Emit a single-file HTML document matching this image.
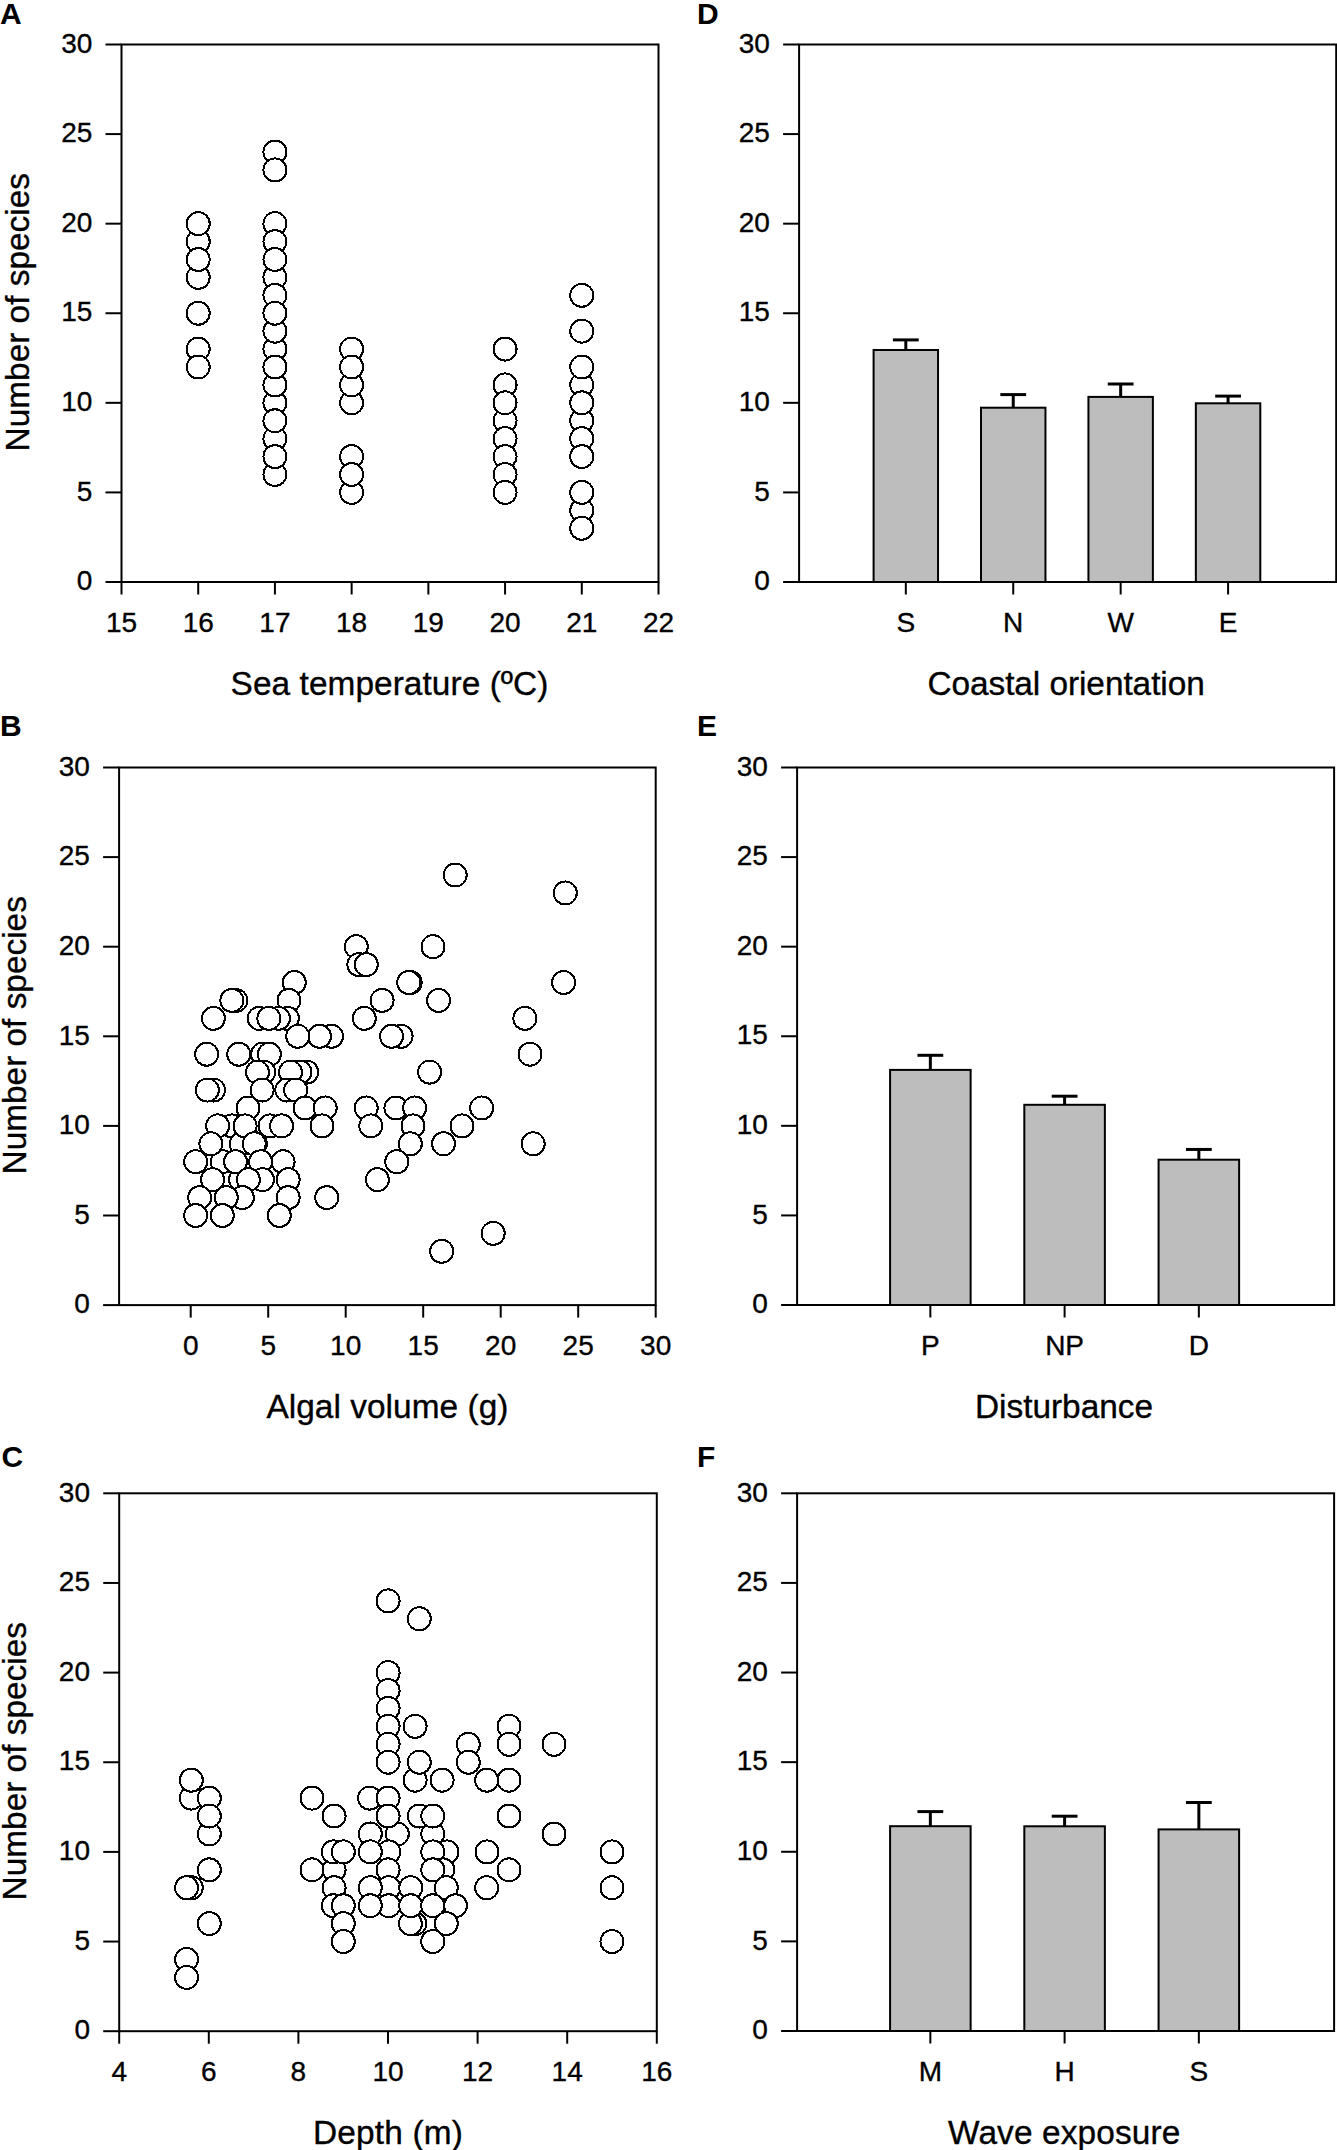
<!DOCTYPE html>
<html><head><meta charset="utf-8"><title>Figure</title>
<style>
html,body{margin:0;padding:0;background:#fff;}
body{width:1337px;height:2150px;overflow:hidden;}
svg{display:block;}
line,rect{stroke:#000;stroke-width:2;}
.t{font-family:"Liberation Sans", sans-serif;font-size:28px;fill:#000;stroke:#000;stroke-width:0.35px;}
.ti{font-family:"Liberation Sans", sans-serif;font-size:33.4px;fill:#000;stroke:#000;stroke-width:0.35px;}
.pl{font-family:"Liberation Sans", sans-serif;font-size:30px;font-weight:bold;fill:#000;}
.c circle{fill:#fff;stroke:#000;stroke-width:2.0;shape-rendering:crispEdges;}
rect.bar{fill:#bdbdbd;stroke:#000;stroke-width:2;}
line.eb{stroke-width:3;}
</style></head>
<body>
<svg width="1337" height="2150" viewBox="0 0 1337 2150">
<line x1="105.50" y1="582.00" x2="121.50" y2="582.00"/>
<text class="t" x="92.30" y="590.20" text-anchor="end">0</text>
<line x1="105.50" y1="492.42" x2="121.50" y2="492.42"/>
<text class="t" x="92.30" y="500.62" text-anchor="end">5</text>
<line x1="105.50" y1="402.83" x2="121.50" y2="402.83"/>
<text class="t" x="92.30" y="411.03" text-anchor="end">10</text>
<line x1="105.50" y1="313.25" x2="121.50" y2="313.25"/>
<text class="t" x="92.30" y="321.45" text-anchor="end">15</text>
<line x1="105.50" y1="223.67" x2="121.50" y2="223.67"/>
<text class="t" x="92.30" y="231.87" text-anchor="end">20</text>
<line x1="105.50" y1="134.08" x2="121.50" y2="134.08"/>
<text class="t" x="92.30" y="142.28" text-anchor="end">25</text>
<line x1="105.50" y1="44.50" x2="121.50" y2="44.50"/>
<text class="t" x="92.30" y="52.70" text-anchor="end">30</text>
<line x1="121.50" y1="582.00" x2="121.50" y2="594.50"/>
<text class="t" x="121.50" y="632.00" text-anchor="middle">15</text>
<line x1="198.21" y1="582.00" x2="198.21" y2="594.50"/>
<text class="t" x="198.21" y="632.00" text-anchor="middle">16</text>
<line x1="274.93" y1="582.00" x2="274.93" y2="594.50"/>
<text class="t" x="274.93" y="632.00" text-anchor="middle">17</text>
<line x1="351.64" y1="582.00" x2="351.64" y2="594.50"/>
<text class="t" x="351.64" y="632.00" text-anchor="middle">18</text>
<line x1="428.36" y1="582.00" x2="428.36" y2="594.50"/>
<text class="t" x="428.36" y="632.00" text-anchor="middle">19</text>
<line x1="505.07" y1="582.00" x2="505.07" y2="594.50"/>
<text class="t" x="505.07" y="632.00" text-anchor="middle">20</text>
<line x1="581.79" y1="582.00" x2="581.79" y2="594.50"/>
<text class="t" x="581.79" y="632.00" text-anchor="middle">21</text>
<line x1="658.50" y1="582.00" x2="658.50" y2="594.50"/>
<text class="t" x="658.50" y="632.00" text-anchor="middle">22</text>
<rect x="121.50" y="44.50" width="537.00" height="537.50" fill="none"/>
<text class="ti" x="230.60" y="694.80" textLength="317.80" lengthAdjust="spacing">Sea temperature (ºC)</text>
<text class="ti" x="0" y="0" text-anchor="middle" transform="translate(28.60 312.25) rotate(-90)">Number of species</text>
<g class="c">
<circle cx="198.21" cy="241.58" r="11.5"/>
<circle cx="198.21" cy="277.42" r="11.5"/>
<circle cx="198.21" cy="349.08" r="11.5"/>
<circle cx="198.21" cy="223.67" r="11.5"/>
<circle cx="198.21" cy="259.50" r="11.5"/>
<circle cx="198.21" cy="313.25" r="11.5"/>
<circle cx="198.21" cy="367.00" r="11.5"/>
<circle cx="274.93" cy="152.00" r="11.5"/>
<circle cx="274.93" cy="223.67" r="11.5"/>
<circle cx="274.93" cy="277.42" r="11.5"/>
<circle cx="274.93" cy="349.08" r="11.5"/>
<circle cx="274.93" cy="402.83" r="11.5"/>
<circle cx="274.93" cy="438.67" r="11.5"/>
<circle cx="274.93" cy="474.50" r="11.5"/>
<circle cx="274.93" cy="241.58" r="11.5"/>
<circle cx="274.93" cy="295.33" r="11.5"/>
<circle cx="274.93" cy="331.17" r="11.5"/>
<circle cx="274.93" cy="384.92" r="11.5"/>
<circle cx="274.93" cy="169.92" r="11.5"/>
<circle cx="274.93" cy="259.50" r="11.5"/>
<circle cx="274.93" cy="313.25" r="11.5"/>
<circle cx="274.93" cy="367.00" r="11.5"/>
<circle cx="274.93" cy="420.75" r="11.5"/>
<circle cx="274.93" cy="456.58" r="11.5"/>
<circle cx="351.64" cy="349.08" r="11.5"/>
<circle cx="351.64" cy="402.83" r="11.5"/>
<circle cx="351.64" cy="384.92" r="11.5"/>
<circle cx="351.64" cy="367.00" r="11.5"/>
<circle cx="351.64" cy="456.58" r="11.5"/>
<circle cx="351.64" cy="492.42" r="11.5"/>
<circle cx="351.64" cy="474.50" r="11.5"/>
<circle cx="505.07" cy="349.08" r="11.5"/>
<circle cx="505.07" cy="384.92" r="11.5"/>
<circle cx="505.07" cy="420.75" r="11.5"/>
<circle cx="505.07" cy="402.83" r="11.5"/>
<circle cx="505.07" cy="438.67" r="11.5"/>
<circle cx="505.07" cy="456.58" r="11.5"/>
<circle cx="505.07" cy="474.50" r="11.5"/>
<circle cx="505.07" cy="492.42" r="11.5"/>
<circle cx="581.79" cy="384.92" r="11.5"/>
<circle cx="581.79" cy="420.75" r="11.5"/>
<circle cx="581.79" cy="438.67" r="11.5"/>
<circle cx="581.79" cy="510.33" r="11.5"/>
<circle cx="581.79" cy="367.00" r="11.5"/>
<circle cx="581.79" cy="402.83" r="11.5"/>
<circle cx="581.79" cy="456.58" r="11.5"/>
<circle cx="581.79" cy="492.42" r="11.5"/>
<circle cx="581.79" cy="528.25" r="11.5"/>
<circle cx="581.79" cy="295.33" r="11.5"/>
<circle cx="581.79" cy="331.17" r="11.5"/>
</g>
<line x1="103.10" y1="1305.10" x2="119.10" y2="1305.10"/>
<text class="t" x="89.90" y="1313.30" text-anchor="end">0</text>
<line x1="103.10" y1="1215.50" x2="119.10" y2="1215.50"/>
<text class="t" x="89.90" y="1223.70" text-anchor="end">5</text>
<line x1="103.10" y1="1125.90" x2="119.10" y2="1125.90"/>
<text class="t" x="89.90" y="1134.10" text-anchor="end">10</text>
<line x1="103.10" y1="1036.30" x2="119.10" y2="1036.30"/>
<text class="t" x="89.90" y="1044.50" text-anchor="end">15</text>
<line x1="103.10" y1="946.70" x2="119.10" y2="946.70"/>
<text class="t" x="89.90" y="954.90" text-anchor="end">20</text>
<line x1="103.10" y1="857.10" x2="119.10" y2="857.10"/>
<text class="t" x="89.90" y="865.30" text-anchor="end">25</text>
<line x1="103.10" y1="767.50" x2="119.10" y2="767.50"/>
<text class="t" x="89.90" y="775.70" text-anchor="end">30</text>
<line x1="190.70" y1="1305.10" x2="190.70" y2="1317.60"/>
<text class="t" x="190.70" y="1355.10" text-anchor="middle">0</text>
<line x1="268.20" y1="1305.10" x2="268.20" y2="1317.60"/>
<text class="t" x="268.20" y="1355.10" text-anchor="middle">5</text>
<line x1="345.70" y1="1305.10" x2="345.70" y2="1317.60"/>
<text class="t" x="345.70" y="1355.10" text-anchor="middle">10</text>
<line x1="423.20" y1="1305.10" x2="423.20" y2="1317.60"/>
<text class="t" x="423.20" y="1355.10" text-anchor="middle">15</text>
<line x1="500.70" y1="1305.10" x2="500.70" y2="1317.60"/>
<text class="t" x="500.70" y="1355.10" text-anchor="middle">20</text>
<line x1="578.20" y1="1305.10" x2="578.20" y2="1317.60"/>
<text class="t" x="578.20" y="1355.10" text-anchor="middle">25</text>
<line x1="655.70" y1="1305.10" x2="655.70" y2="1317.60"/>
<text class="t" x="655.70" y="1355.10" text-anchor="middle">30</text>
<rect x="119.10" y="767.50" width="536.60" height="537.60" fill="none"/>
<text class="ti" x="266.40" y="1418.20" textLength="242.00" lengthAdjust="spacing">Algal volume (g)</text>
<text class="ti" x="0" y="0" text-anchor="middle" transform="translate(26.20 1035.30) rotate(-90)">Number of species</text>
<g class="c">
<circle cx="231.80" cy="1125.90" r="11.5"/>
<circle cx="241.30" cy="1143.82" r="11.5"/>
<circle cx="222.30" cy="1161.74" r="11.5"/>
<circle cx="240.60" cy="1179.66" r="11.5"/>
<circle cx="455.20" cy="875.02" r="11.5"/>
<circle cx="565.30" cy="892.94" r="11.5"/>
<circle cx="356.30" cy="946.70" r="11.5"/>
<circle cx="433.00" cy="946.70" r="11.5"/>
<circle cx="358.90" cy="964.62" r="11.5"/>
<circle cx="366.30" cy="964.62" r="11.5"/>
<circle cx="294.30" cy="982.54" r="11.5"/>
<circle cx="410.20" cy="982.54" r="11.5"/>
<circle cx="408.80" cy="982.54" r="11.5"/>
<circle cx="563.60" cy="982.54" r="11.5"/>
<circle cx="235.90" cy="1000.46" r="11.5"/>
<circle cx="231.90" cy="1000.46" r="11.5"/>
<circle cx="289.00" cy="1000.46" r="11.5"/>
<circle cx="382.10" cy="1000.46" r="11.5"/>
<circle cx="438.60" cy="1000.46" r="11.5"/>
<circle cx="213.40" cy="1018.38" r="11.5"/>
<circle cx="287.40" cy="1018.38" r="11.5"/>
<circle cx="278.50" cy="1018.38" r="11.5"/>
<circle cx="259.20" cy="1018.38" r="11.5"/>
<circle cx="268.90" cy="1018.38" r="11.5"/>
<circle cx="364.30" cy="1018.38" r="11.5"/>
<circle cx="524.90" cy="1018.38" r="11.5"/>
<circle cx="331.60" cy="1036.30" r="11.5"/>
<circle cx="319.50" cy="1036.30" r="11.5"/>
<circle cx="297.80" cy="1036.30" r="11.5"/>
<circle cx="401.10" cy="1036.30" r="11.5"/>
<circle cx="391.60" cy="1036.30" r="11.5"/>
<circle cx="206.70" cy="1054.22" r="11.5"/>
<circle cx="238.80" cy="1054.22" r="11.5"/>
<circle cx="262.50" cy="1054.22" r="11.5"/>
<circle cx="269.40" cy="1054.22" r="11.5"/>
<circle cx="530.00" cy="1054.22" r="11.5"/>
<circle cx="306.70" cy="1072.14" r="11.5"/>
<circle cx="299.90" cy="1072.14" r="11.5"/>
<circle cx="290.50" cy="1072.14" r="11.5"/>
<circle cx="263.80" cy="1072.14" r="11.5"/>
<circle cx="257.50" cy="1072.14" r="11.5"/>
<circle cx="429.60" cy="1072.14" r="11.5"/>
<circle cx="213.50" cy="1090.06" r="11.5"/>
<circle cx="207.40" cy="1090.06" r="11.5"/>
<circle cx="262.20" cy="1090.06" r="11.5"/>
<circle cx="286.80" cy="1090.06" r="11.5"/>
<circle cx="295.70" cy="1090.06" r="11.5"/>
<circle cx="248.00" cy="1107.98" r="11.5"/>
<circle cx="305.10" cy="1107.98" r="11.5"/>
<circle cx="325.20" cy="1107.98" r="11.5"/>
<circle cx="366.20" cy="1107.98" r="11.5"/>
<circle cx="395.90" cy="1107.98" r="11.5"/>
<circle cx="414.70" cy="1107.98" r="11.5"/>
<circle cx="481.70" cy="1107.98" r="11.5"/>
<circle cx="217.70" cy="1125.90" r="11.5"/>
<circle cx="245.10" cy="1125.90" r="11.5"/>
<circle cx="270.00" cy="1125.90" r="11.5"/>
<circle cx="281.60" cy="1125.90" r="11.5"/>
<circle cx="322.00" cy="1125.90" r="11.5"/>
<circle cx="370.80" cy="1125.90" r="11.5"/>
<circle cx="413.00" cy="1125.90" r="11.5"/>
<circle cx="462.00" cy="1125.90" r="11.5"/>
<circle cx="210.90" cy="1143.82" r="11.5"/>
<circle cx="255.40" cy="1143.82" r="11.5"/>
<circle cx="254.30" cy="1143.82" r="11.5"/>
<circle cx="410.30" cy="1143.82" r="11.5"/>
<circle cx="443.50" cy="1143.82" r="11.5"/>
<circle cx="533.20" cy="1143.82" r="11.5"/>
<circle cx="195.70" cy="1161.74" r="11.5"/>
<circle cx="235.50" cy="1161.74" r="11.5"/>
<circle cx="260.60" cy="1161.74" r="11.5"/>
<circle cx="283.10" cy="1161.74" r="11.5"/>
<circle cx="396.80" cy="1161.74" r="11.5"/>
<circle cx="212.60" cy="1179.66" r="11.5"/>
<circle cx="262.50" cy="1179.66" r="11.5"/>
<circle cx="248.40" cy="1179.66" r="11.5"/>
<circle cx="288.20" cy="1179.66" r="11.5"/>
<circle cx="377.40" cy="1179.66" r="11.5"/>
<circle cx="199.70" cy="1197.58" r="11.5"/>
<circle cx="242.40" cy="1197.58" r="11.5"/>
<circle cx="226.30" cy="1197.58" r="11.5"/>
<circle cx="288.20" cy="1197.58" r="11.5"/>
<circle cx="326.80" cy="1197.58" r="11.5"/>
<circle cx="195.70" cy="1215.50" r="11.5"/>
<circle cx="222.30" cy="1215.50" r="11.5"/>
<circle cx="279.30" cy="1215.50" r="11.5"/>
<circle cx="493.20" cy="1233.42" r="11.5"/>
<circle cx="441.70" cy="1251.34" r="11.5"/>
</g>
<line x1="103.20" y1="2031.20" x2="119.20" y2="2031.20"/>
<text class="t" x="90.00" y="2039.40" text-anchor="end">0</text>
<line x1="103.20" y1="1941.55" x2="119.20" y2="1941.55"/>
<text class="t" x="90.00" y="1949.75" text-anchor="end">5</text>
<line x1="103.20" y1="1851.90" x2="119.20" y2="1851.90"/>
<text class="t" x="90.00" y="1860.10" text-anchor="end">10</text>
<line x1="103.20" y1="1762.25" x2="119.20" y2="1762.25"/>
<text class="t" x="90.00" y="1770.45" text-anchor="end">15</text>
<line x1="103.20" y1="1672.60" x2="119.20" y2="1672.60"/>
<text class="t" x="90.00" y="1680.80" text-anchor="end">20</text>
<line x1="103.20" y1="1582.95" x2="119.20" y2="1582.95"/>
<text class="t" x="90.00" y="1591.15" text-anchor="end">25</text>
<line x1="103.20" y1="1493.30" x2="119.20" y2="1493.30"/>
<text class="t" x="90.00" y="1501.50" text-anchor="end">30</text>
<line x1="119.20" y1="2031.20" x2="119.20" y2="2043.70"/>
<text class="t" x="119.20" y="2081.20" text-anchor="middle">4</text>
<line x1="208.80" y1="2031.20" x2="208.80" y2="2043.70"/>
<text class="t" x="208.80" y="2081.20" text-anchor="middle">6</text>
<line x1="298.40" y1="2031.20" x2="298.40" y2="2043.70"/>
<text class="t" x="298.40" y="2081.20" text-anchor="middle">8</text>
<line x1="388.00" y1="2031.20" x2="388.00" y2="2043.70"/>
<text class="t" x="388.00" y="2081.20" text-anchor="middle">10</text>
<line x1="477.60" y1="2031.20" x2="477.60" y2="2043.70"/>
<text class="t" x="477.60" y="2081.20" text-anchor="middle">12</text>
<line x1="567.20" y1="2031.20" x2="567.20" y2="2043.70"/>
<text class="t" x="567.20" y="2081.20" text-anchor="middle">14</text>
<line x1="656.80" y1="2031.20" x2="656.80" y2="2043.70"/>
<text class="t" x="656.80" y="2081.20" text-anchor="middle">16</text>
<rect x="119.20" y="1493.30" width="537.60" height="537.90" fill="none"/>
<text class="ti" x="313.00" y="2144.30" textLength="149.80" lengthAdjust="spacing">Depth (m)</text>
<text class="ti" x="0" y="0" text-anchor="middle" transform="translate(26.30 1761.25) rotate(-90)">Number of species</text>
<g class="c">
<circle cx="414.80" cy="1923.62" r="11.5"/>
<circle cx="410.40" cy="1923.62" r="11.5"/>
<circle cx="334.10" cy="1869.83" r="11.5"/>
<circle cx="388.10" cy="1600.88" r="11.5"/>
<circle cx="419.30" cy="1618.81" r="11.5"/>
<circle cx="388.10" cy="1672.60" r="11.5"/>
<circle cx="388.10" cy="1690.53" r="11.5"/>
<circle cx="388.10" cy="1708.46" r="11.5"/>
<circle cx="388.10" cy="1726.39" r="11.5"/>
<circle cx="415.10" cy="1726.39" r="11.5"/>
<circle cx="509.00" cy="1726.39" r="11.5"/>
<circle cx="388.10" cy="1744.32" r="11.5"/>
<circle cx="468.30" cy="1744.32" r="11.5"/>
<circle cx="509.00" cy="1744.32" r="11.5"/>
<circle cx="554.00" cy="1744.32" r="11.5"/>
<circle cx="191.30" cy="1798.11" r="11.5"/>
<circle cx="209.30" cy="1798.11" r="11.5"/>
<circle cx="312.00" cy="1798.11" r="11.5"/>
<circle cx="369.60" cy="1798.11" r="11.5"/>
<circle cx="388.10" cy="1798.11" r="11.5"/>
<circle cx="191.30" cy="1780.18" r="11.5"/>
<circle cx="415.10" cy="1780.18" r="11.5"/>
<circle cx="442.10" cy="1780.18" r="11.5"/>
<circle cx="486.70" cy="1780.18" r="11.5"/>
<circle cx="509.00" cy="1780.18" r="11.5"/>
<circle cx="388.10" cy="1762.25" r="11.5"/>
<circle cx="419.30" cy="1762.25" r="11.5"/>
<circle cx="468.30" cy="1762.25" r="11.5"/>
<circle cx="209.30" cy="1833.97" r="11.5"/>
<circle cx="370.30" cy="1833.97" r="11.5"/>
<circle cx="397.30" cy="1833.97" r="11.5"/>
<circle cx="432.80" cy="1833.97" r="11.5"/>
<circle cx="554.00" cy="1833.97" r="11.5"/>
<circle cx="209.30" cy="1816.04" r="11.5"/>
<circle cx="334.10" cy="1816.04" r="11.5"/>
<circle cx="388.10" cy="1816.04" r="11.5"/>
<circle cx="419.30" cy="1816.04" r="11.5"/>
<circle cx="432.80" cy="1816.04" r="11.5"/>
<circle cx="509.00" cy="1816.04" r="11.5"/>
<circle cx="333.30" cy="1851.90" r="11.5"/>
<circle cx="343.30" cy="1851.90" r="11.5"/>
<circle cx="388.80" cy="1851.90" r="11.5"/>
<circle cx="370.30" cy="1851.90" r="11.5"/>
<circle cx="447.00" cy="1851.90" r="11.5"/>
<circle cx="432.80" cy="1851.90" r="11.5"/>
<circle cx="487.00" cy="1851.90" r="11.5"/>
<circle cx="612.00" cy="1851.90" r="11.5"/>
<circle cx="209.30" cy="1869.83" r="11.5"/>
<circle cx="312.00" cy="1869.83" r="11.5"/>
<circle cx="388.10" cy="1869.83" r="11.5"/>
<circle cx="442.80" cy="1869.83" r="11.5"/>
<circle cx="432.80" cy="1869.83" r="11.5"/>
<circle cx="509.00" cy="1869.83" r="11.5"/>
<circle cx="191.30" cy="1887.76" r="11.5"/>
<circle cx="186.60" cy="1887.76" r="11.5"/>
<circle cx="334.10" cy="1887.76" r="11.5"/>
<circle cx="388.80" cy="1887.76" r="11.5"/>
<circle cx="370.30" cy="1887.76" r="11.5"/>
<circle cx="410.80" cy="1887.76" r="11.5"/>
<circle cx="446.30" cy="1887.76" r="11.5"/>
<circle cx="486.70" cy="1887.76" r="11.5"/>
<circle cx="612.00" cy="1887.76" r="11.5"/>
<circle cx="333.30" cy="1905.69" r="11.5"/>
<circle cx="343.30" cy="1905.69" r="11.5"/>
<circle cx="388.80" cy="1905.69" r="11.5"/>
<circle cx="370.30" cy="1905.69" r="11.5"/>
<circle cx="410.80" cy="1905.69" r="11.5"/>
<circle cx="432.80" cy="1905.69" r="11.5"/>
<circle cx="455.50" cy="1905.69" r="11.5"/>
<circle cx="209.30" cy="1923.62" r="11.5"/>
<circle cx="343.30" cy="1923.62" r="11.5"/>
<circle cx="446.30" cy="1923.62" r="11.5"/>
<circle cx="343.30" cy="1941.55" r="11.5"/>
<circle cx="432.80" cy="1941.55" r="11.5"/>
<circle cx="612.00" cy="1941.55" r="11.5"/>
<circle cx="186.60" cy="1959.48" r="11.5"/>
<circle cx="186.60" cy="1977.41" r="11.5"/>
</g>
<line x1="783.10" y1="582.00" x2="799.10" y2="582.00"/>
<text class="t" x="769.90" y="590.20" text-anchor="end">0</text>
<line x1="783.10" y1="492.42" x2="799.10" y2="492.42"/>
<text class="t" x="769.90" y="500.62" text-anchor="end">5</text>
<line x1="783.10" y1="402.83" x2="799.10" y2="402.83"/>
<text class="t" x="769.90" y="411.03" text-anchor="end">10</text>
<line x1="783.10" y1="313.25" x2="799.10" y2="313.25"/>
<text class="t" x="769.90" y="321.45" text-anchor="end">15</text>
<line x1="783.10" y1="223.67" x2="799.10" y2="223.67"/>
<text class="t" x="769.90" y="231.87" text-anchor="end">20</text>
<line x1="783.10" y1="134.08" x2="799.10" y2="134.08"/>
<text class="t" x="769.90" y="142.28" text-anchor="end">25</text>
<line x1="783.10" y1="44.50" x2="799.10" y2="44.50"/>
<text class="t" x="769.90" y="52.70" text-anchor="end">30</text>
<line x1="905.82" y1="582.00" x2="905.82" y2="594.50"/>
<text class="t" x="905.82" y="632.00" text-anchor="middle">S</text>
<line x1="1013.24" y1="582.00" x2="1013.24" y2="594.50"/>
<text class="t" x="1013.24" y="632.00" text-anchor="middle">N</text>
<line x1="1120.66" y1="582.00" x2="1120.66" y2="594.50"/>
<text class="t" x="1120.66" y="632.00" text-anchor="middle">W</text>
<line x1="1228.08" y1="582.00" x2="1228.08" y2="594.50"/>
<text class="t" x="1228.08" y="632.00" text-anchor="middle">E</text>
<rect x="799.10" y="44.50" width="537.10" height="537.50" fill="none"/>
<text class="ti" x="927.40" y="695.30" textLength="277.40" lengthAdjust="spacing">Coastal orientation</text>
<rect class="bar" x="873.59" y="350.00" width="64.45" height="232.00"/>
<line class="eb" x1="905.82" y1="350.00" x2="905.82" y2="339.90"/>
<line class="eb" x1="892.92" y1="339.90" x2="918.72" y2="339.90"/>
<rect class="bar" x="981.01" y="407.70" width="64.45" height="174.30"/>
<line class="eb" x1="1013.24" y1="407.70" x2="1013.24" y2="394.60"/>
<line class="eb" x1="1000.34" y1="394.60" x2="1026.14" y2="394.60"/>
<rect class="bar" x="1088.43" y="396.90" width="64.45" height="185.10"/>
<line class="eb" x1="1120.66" y1="396.90" x2="1120.66" y2="384.00"/>
<line class="eb" x1="1107.76" y1="384.00" x2="1133.56" y2="384.00"/>
<rect class="bar" x="1195.85" y="403.30" width="64.45" height="178.70"/>
<line class="eb" x1="1228.08" y1="403.30" x2="1228.08" y2="396.10"/>
<line class="eb" x1="1215.18" y1="396.10" x2="1240.98" y2="396.10"/>
<line x1="781.10" y1="1305.00" x2="797.10" y2="1305.00"/>
<text class="t" x="767.90" y="1313.20" text-anchor="end">0</text>
<line x1="781.10" y1="1215.42" x2="797.10" y2="1215.42"/>
<text class="t" x="767.90" y="1223.62" text-anchor="end">5</text>
<line x1="781.10" y1="1125.83" x2="797.10" y2="1125.83"/>
<text class="t" x="767.90" y="1134.03" text-anchor="end">10</text>
<line x1="781.10" y1="1036.25" x2="797.10" y2="1036.25"/>
<text class="t" x="767.90" y="1044.45" text-anchor="end">15</text>
<line x1="781.10" y1="946.67" x2="797.10" y2="946.67"/>
<text class="t" x="767.90" y="954.87" text-anchor="end">20</text>
<line x1="781.10" y1="857.08" x2="797.10" y2="857.08"/>
<text class="t" x="767.90" y="865.28" text-anchor="end">25</text>
<line x1="781.10" y1="767.50" x2="797.10" y2="767.50"/>
<text class="t" x="767.90" y="775.70" text-anchor="end">30</text>
<line x1="930.35" y1="1305.00" x2="930.35" y2="1317.50"/>
<text class="t" x="930.35" y="1355.00" text-anchor="middle">P</text>
<line x1="1064.60" y1="1305.00" x2="1064.60" y2="1317.50"/>
<text class="t" x="1064.60" y="1355.00" text-anchor="middle">NP</text>
<line x1="1198.85" y1="1305.00" x2="1198.85" y2="1317.50"/>
<text class="t" x="1198.85" y="1355.00" text-anchor="middle">D</text>
<rect x="797.10" y="767.50" width="537.00" height="537.50" fill="none"/>
<text class="ti" x="975.00" y="1418.40" textLength="178.00" lengthAdjust="spacing">Disturbance</text>
<rect class="bar" x="890.08" y="1069.90" width="80.55" height="235.10"/>
<line class="eb" x1="930.35" y1="1069.90" x2="930.35" y2="1055.30"/>
<line class="eb" x1="917.45" y1="1055.30" x2="943.25" y2="1055.30"/>
<rect class="bar" x="1024.32" y="1104.80" width="80.55" height="200.20"/>
<line class="eb" x1="1064.60" y1="1104.80" x2="1064.60" y2="1096.20"/>
<line class="eb" x1="1051.70" y1="1096.20" x2="1077.50" y2="1096.20"/>
<rect class="bar" x="1158.57" y="1159.70" width="80.55" height="145.30"/>
<line class="eb" x1="1198.85" y1="1159.70" x2="1198.85" y2="1149.45"/>
<line class="eb" x1="1185.95" y1="1149.45" x2="1211.75" y2="1149.45"/>
<line x1="781.10" y1="2031.00" x2="797.10" y2="2031.00"/>
<text class="t" x="767.90" y="2039.20" text-anchor="end">0</text>
<line x1="781.10" y1="1941.38" x2="797.10" y2="1941.38"/>
<text class="t" x="767.90" y="1949.58" text-anchor="end">5</text>
<line x1="781.10" y1="1851.77" x2="797.10" y2="1851.77"/>
<text class="t" x="767.90" y="1859.97" text-anchor="end">10</text>
<line x1="781.10" y1="1762.15" x2="797.10" y2="1762.15"/>
<text class="t" x="767.90" y="1770.35" text-anchor="end">15</text>
<line x1="781.10" y1="1672.53" x2="797.10" y2="1672.53"/>
<text class="t" x="767.90" y="1680.73" text-anchor="end">20</text>
<line x1="781.10" y1="1582.92" x2="797.10" y2="1582.92"/>
<text class="t" x="767.90" y="1591.12" text-anchor="end">25</text>
<line x1="781.10" y1="1493.30" x2="797.10" y2="1493.30"/>
<text class="t" x="767.90" y="1501.50" text-anchor="end">30</text>
<line x1="930.35" y1="2031.00" x2="930.35" y2="2043.50"/>
<text class="t" x="930.35" y="2081.00" text-anchor="middle">M</text>
<line x1="1064.60" y1="2031.00" x2="1064.60" y2="2043.50"/>
<text class="t" x="1064.60" y="2081.00" text-anchor="middle">H</text>
<line x1="1198.85" y1="2031.00" x2="1198.85" y2="2043.50"/>
<text class="t" x="1198.85" y="2081.00" text-anchor="middle">S</text>
<rect x="797.10" y="1493.30" width="537.00" height="537.70" fill="none"/>
<text class="ti" x="948.00" y="2144.30" textLength="232.40" lengthAdjust="spacing">Wave exposure</text>
<rect class="bar" x="890.08" y="1826.20" width="80.55" height="204.80"/>
<line class="eb" x1="930.35" y1="1826.20" x2="930.35" y2="1811.60"/>
<line class="eb" x1="917.45" y1="1811.60" x2="943.25" y2="1811.60"/>
<rect class="bar" x="1024.32" y="1826.30" width="80.55" height="204.70"/>
<line class="eb" x1="1064.60" y1="1826.30" x2="1064.60" y2="1816.20"/>
<line class="eb" x1="1051.70" y1="1816.20" x2="1077.50" y2="1816.20"/>
<rect class="bar" x="1158.57" y="1829.40" width="80.55" height="201.60"/>
<line class="eb" x1="1198.85" y1="1829.40" x2="1198.85" y2="1802.50"/>
<line class="eb" x1="1185.95" y1="1802.50" x2="1211.75" y2="1802.50"/>
<text class="pl" x="0" y="24.2">A</text>
<text class="pl" x="0" y="736.0">B</text>
<text class="pl" x="1.6" y="1466.7">C</text>
<text class="pl" x="697" y="24.2">D</text>
<text class="pl" x="697" y="736.0">E</text>
<text class="pl" x="697" y="1466.7">F</text>
</svg>
</body></html>
